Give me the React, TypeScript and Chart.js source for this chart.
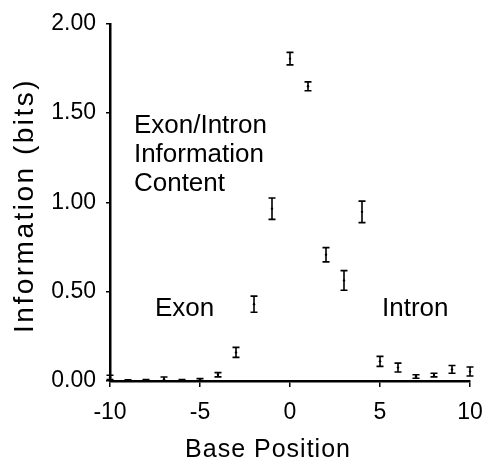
import React, { useEffect, useRef } from "react";
import { Chart, registerables } from "chart.js";

Chart.register(...registerables);

const positions = [-10, -9, -8, -7, -6, -5, -4, -3, -2, -1, 0, 1, 2, 3, 4, 5, 6, 7, 8, 9, 10];
const infoBits = [0.02, 0.003, 0.004, 0.01, 0.004, 0.008, 0.035, 0.16, 0.43, 0.965, 1.805, 1.65, 0.707, 0.563, 0.947, 0.11, 0.075, 0.025, 0.033, 0.065, 0.053];
const infoErr = [0.012, 0.004, 0.004, 0.012, 0.004, 0.006, 0.012, 0.028, 0.045, 0.06, 0.035, 0.025, 0.04, 0.055, 0.06, 0.028, 0.025, 0.01, 0.01, 0.022, 0.025];
const xTicks = [-10, -5, 0, 5, 10];
const yTicks = [0, 0.5, 1, 1.5, 2];
const xTitle = "Base Position";
const yTitle = "Information (bits)";
const noteLines = ["Exon/Intron", "Information", "Content"];
const noteAt = { x: -8.67, y: 1.387 };
const exonLabel = { text: "Exon", x: -7.5, y: 0.362 };
const intronLabel = { text: "Intron", x: 5.11, y: 0.362 };

const FONT = "'Liberation Sans', Arial, Helvetica, sans-serif";

const errorBarPlugin = {
  id: "errorBars",
  afterDatasetsDraw(chart: any) {
    const { ctx, scales } = chart;
    const xs = scales.x;
    const ys = scales.y;
    ctx.save();
    ctx.strokeStyle = "#000";
    ctx.lineWidth = 1.6;
    for (let i = 0; i < positions.length; i++) {
      const x = xs.getPixelForValue(positions[i]);
      const yT = ys.getPixelForValue(infoBits[i] + infoErr[i]);
      const yB = ys.getPixelForValue(Math.max(0, infoBits[i] - infoErr[i]));
      ctx.beginPath();
      ctx.moveTo(x, yT);
      ctx.lineTo(x, yB);
      ctx.moveTo(x - 3.5, yT);
      ctx.lineTo(x + 3.5, yT);
      ctx.moveTo(x - 3.5, yB);
      ctx.lineTo(x + 3.5, yB);
      ctx.stroke();
    }
    ctx.restore();
  },
};

const textPlugin = {
  id: "texts",
  afterDraw(chart: any) {
    const { ctx, scales, chartArea } = chart;
    const xs = scales.x;
    const ys = scales.y;
    ctx.save();
    ctx.fillStyle = "#000";
    ctx.textBaseline = "alphabetic";
    ctx.textAlign = "left";
    ctx.font = `26px ${FONT}`;
    const nx = xs.getPixelForValue(noteAt.x);
    const ny = ys.getPixelForValue(noteAt.y);
    noteLines.forEach((l, i) => ctx.fillText(l, nx, ny + i * 29));
    ctx.fillText(exonLabel.text, xs.getPixelForValue(exonLabel.x), ys.getPixelForValue(exonLabel.y));
    ctx.fillText(intronLabel.text, xs.getPixelForValue(intronLabel.x), ys.getPixelForValue(intronLabel.y));
    // axis titles
    ctx.textAlign = "center";
    ctx.font = `25px ${FONT}`;
    (ctx as any).letterSpacing = "1px";
    const cx = (chartArea.left + chartArea.right) / 2 - 22;
    ctx.fillText(xTitle, cx, chartArea.bottom + 76);
    ctx.font = `28px ${FONT}`;
    (ctx as any).letterSpacing = "2.5px";
    ctx.translate(chartArea.left - 77, (chartArea.top + chartArea.bottom) / 2 + 3);
    ctx.rotate(-Math.PI / 2);
    ctx.fillText(yTitle, 0, 0);
    (ctx as any).letterSpacing = "0px";
    ctx.restore();
    (ctx as any).letterSpacing = "0px";
  },
};

export default function App() {
  const ref = useRef<HTMLCanvasElement>(null);
  useEffect(() => {
    document.body.style.margin = "0";
    const chart = new Chart(ref.current as HTMLCanvasElement, {
      type: "scatter",
      data: {
        datasets: [
          {
            data: positions.map((p, i) => ({ x: p, y: infoBits[i] })),
            pointRadius: 1.2,
            pointBackgroundColor: "#000",
            pointBorderColor: "#000",
            borderWidth: 0,
            clip: false as any,
          },
        ],
      },
      options: {
        animation: false,
        responsive: false,
        devicePixelRatio: 1,
        layout: { padding: { left: 0, top: 22, right: 19, bottom: 0 } },
        plugins: { legend: { display: false }, tooltip: { enabled: false } },
        scales: {
          x: {
            type: "linear",
            min: -10,
            max: 10,
            afterFit: (s: any) => {
              s.height = 79;
              s.paddingLeft = 0;
              s.paddingRight = 0;
            },
            afterBuildTicks: (s: any) => {
              s.ticks = xTicks.map((v) => ({ value: v }));
            },
            border: { display: true, color: "#000", width: 2.5 },
            grid: { display: true, drawOnChartArea: false, drawTicks: true, tickLength: 6, color: "#000", lineWidth: 1.5 },
            ticks: { color: "#000", font: { family: FONT, size: 23 }, padding: 12, maxRotation: 0 },
          },
          y: {
            type: "linear",
            min: 0,
            max: 2,
            afterFit: (s: any) => {
              s.width = 110;
            },
            afterBuildTicks: (s: any) => {
              s.ticks = yTicks.map((v) => ({ value: v }));
            },
            border: { display: true, color: "#000", width: 2.5 },
            grid: { display: true, drawOnChartArea: false, drawTicks: true, tickLength: 4, color: "#000", lineWidth: 1.5 },
            ticks: {
              color: "#000",
              font: { family: FONT, size: 23 },
              padding: 10,
              callback: (v: any) => Number(v).toFixed(2),
            },
          },
        },
      },
      plugins: [errorBarPlugin, textPlugin],
    });
    return () => chart.destroy();
  }, []);
  return (
    <div style={{ width: 489, height: 460 }}>
      <canvas ref={ref} width={489} height={460} />
    </div>
  );
}
